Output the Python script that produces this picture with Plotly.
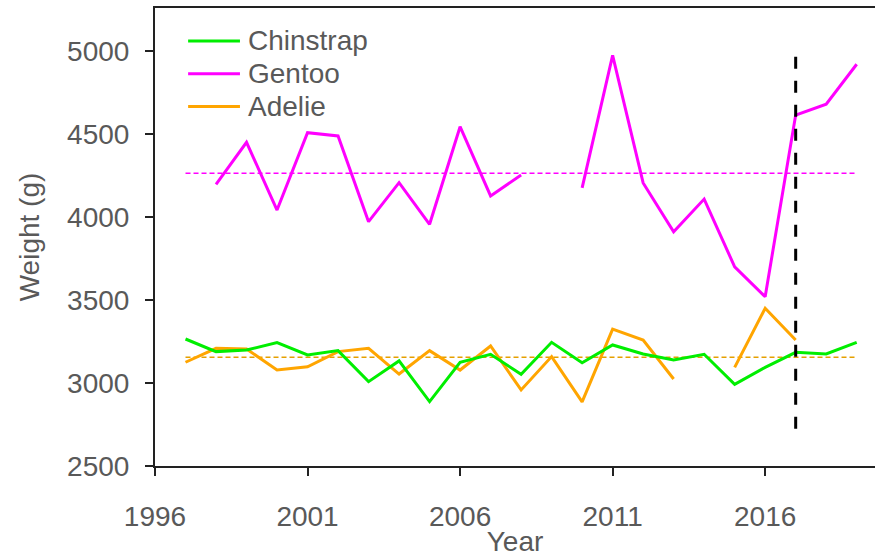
import plotly.graph_objects as go

# Mean body weight per year for each penguin species
years = list(range(1997, 2020))

chinstrap = [3265, 3189, 3199, 3243, 3169, 3195, 3008, 3133, 2888, 3125, 3173, 3052,
             3245, 3122, 3229, 3175, 3139, 3173, 2992, 3094, 3185, 3175, 3245]

gentoo = [None, 4197, 4450, 4042, 4508, 4488, 3972, 4207, 3956, 4544, 4127, 4253,
          None, 4175, 4974, 4205, 3911, 4108, 3700, 3520, 4614, 4679, 4920]

adelie = [3125, 3209, 3205, 3078, 3098, 3189, 3209, 3054, 3195, 3078, 3223, 2958,
          3159, 2886, 3325, 3259, 3024, None, 3094, 3450, 3259, None, None]

# Long-term averages
gentoo_mean = 4263
adelie_mean = 3155
mean_span = [1997, 2019]

# Reference year marker
marker_year = 2017
marker_span = [2725, 5020]

x_ticks = [1996, 2001, 2006, 2011, 2016]
y_ticks = [2500, 3000, 3500, 4000, 4500, 5000]

species = ["Chinstrap", "Gentoo", "Adelie"]

GREEN = "#00EE00"
MAGENTA = "#FF00FF"
ORANGE = "#FFA500"
COLORS = {"Chinstrap": GREEN, "Gentoo": MAGENTA, "Adelie": ORANGE}
TEXT = "#595959"
AXIS = "#222222"
FONT = "Liberation Sans, Arial, sans-serif"

fig = go.Figure()

# Average reference lines (underneath the yearly series)
fig.add_trace(go.Scatter(
    x=mean_span, y=[gentoo_mean, gentoo_mean], mode="lines",
    line=dict(color=MAGENTA, width=1.5, dash="5px,3px"),
    showlegend=False, hoverinfo="skip"))
fig.add_trace(go.Scatter(
    x=mean_span, y=[adelie_mean, adelie_mean], mode="lines",
    line=dict(color="#E5A000", width=1.5, dash="5px,3px"),
    showlegend=False, hoverinfo="skip"))

series = {"Adelie": adelie, "Chinstrap": chinstrap, "Gentoo": gentoo}
for name in ["Adelie", "Chinstrap", "Gentoo"]:
    fig.add_trace(go.Scatter(x=years, y=series[name], mode="lines", name=name,
                             line=dict(color=COLORS[name], width=3),
                             connectgaps=False, showlegend=False))

# Vertical marker line, drawn on top of the series
fig.add_trace(go.Scatter(
    x=[marker_year, marker_year], y=marker_span, mode="lines",
    line=dict(color="black", width=3, dash="12px,12px"),
    showlegend=False, hoverinfo="skip"))

# Compact key in the upper-left corner of the plot area
key_top, key_step = 0.928, 0.0715
for i, name in enumerate(species):
    yk = key_top - i * key_step
    fig.add_shape(type="line", xref="paper", yref="paper",
                  x0=0.046, x1=0.118, y0=yk, y1=yk,
                  line=dict(color=COLORS[name], width=3))
    fig.add_annotation(xref="paper", yref="paper", x=0.1264, y=yk,
                       xanchor="left", yanchor="middle", showarrow=False,
                       text=name, font=dict(family=FONT, size=28, color=TEXT))

fig.update_layout(
    width=875, height=557,
    margin=dict(l=155, r=0, t=8, b=91),
    plot_bgcolor="white", paper_bgcolor="white",
    font=dict(family=FONT, size=28, color=TEXT),
    showlegend=False,
    xaxis=dict(
        range=[1996, 2019.6], tickvals=x_ticks, ticktext=[str(v) for v in x_ticks],
        showgrid=False, zeroline=False,
        showline=True, linecolor=AXIS, linewidth=2, mirror=True,
        ticks="outside", ticklen=8, tickwidth=2, tickcolor=AXIS,
        ticklabelstandoff=16,
        tickfont=dict(family=FONT, size=28, color=TEXT),
        title=dict(text="Year", font=dict(family=FONT, size=28, color=TEXT), standoff=6),
    ),
    yaxis=dict(
        range=[2500, 5259], tickvals=y_ticks, ticktext=[str(v) for v in y_ticks],
        showgrid=False, zeroline=False,
        showline=True, linecolor=AXIS, linewidth=2,
        ticks="outside", ticklen=8, tickwidth=2, tickcolor=AXIS,
        ticklabelstandoff=10,
        tickfont=dict(family=FONT, size=28, color=TEXT),
        title=dict(text="Weight (g)", font=dict(family=FONT, size=28, color=TEXT), standoff=19),
    ),
)

fig.write_html("out.html")
